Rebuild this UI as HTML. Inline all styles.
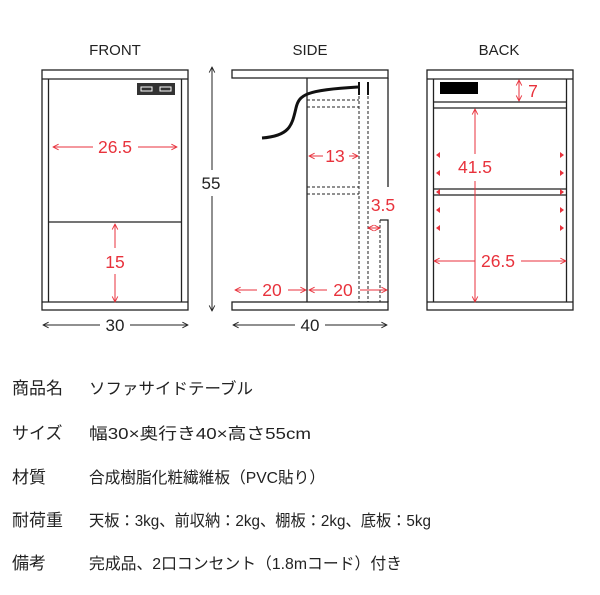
<!DOCTYPE html>
<html><head><meta charset="utf-8"><style>
body{margin:0;background:#fff;}
svg text{font-family:"Liberation Sans","Noto Sans CJK JP",sans-serif;}
</style></head><body>
<svg width="600" height="590" viewBox="0 0 600 590" xmlns="http://www.w3.org/2000/svg">
<defs>
<marker id="ar" viewBox="0 0 10 10" refX="9" refY="5" markerWidth="7" markerHeight="7" orient="auto-start-reverse"><path d="M1,1 L9,5 L1,9" fill="none" stroke="#e8323c" stroke-width="1.3"/></marker>
<marker id="ab" viewBox="0 0 10 10" refX="9" refY="5" markerWidth="7" markerHeight="7" orient="auto-start-reverse"><path d="M1,1 L9,5 L1,9" fill="none" stroke="#222" stroke-width="1.3"/></marker>
</defs>
<g font-size="15" fill="#222" text-anchor="middle">
<text x="115" y="55">FRONT</text><text x="310" y="55">SIDE</text><text x="499" y="55">BACK</text>
</g>
<g fill="none" stroke="#222" stroke-width="1.3">
<rect x="42" y="70" width="146" height="240"/>
<line x1="42" y1="79" x2="188" y2="79"/><line x1="42" y1="302" x2="188" y2="302"/>
<line x1="48.5" y1="79" x2="48.5" y2="302"/><line x1="181.5" y1="79" x2="181.5" y2="302"/>
<line x1="48.5" y1="222" x2="181.5" y2="222"/>
<rect x="232" y="70" width="156" height="8"/>
<rect x="232" y="302" width="156" height="8"/>
<line x1="307" y1="78" x2="307" y2="302"/>
<polyline points="388,78 388,187"/>
<polyline points="380,220 388,220 388,302"/>
<rect x="427" y="70" width="146" height="240"/>
<line x1="427" y1="79" x2="573" y2="79"/><line x1="427" y1="302" x2="573" y2="302"/>
<line x1="433.5" y1="79" x2="433.5" y2="302"/><line x1="566.5" y1="79" x2="566.5" y2="302"/>
<line x1="433.5" y1="102" x2="566.5" y2="102"/><line x1="433.5" y1="108" x2="566.5" y2="108"/>
<line x1="433.5" y1="189" x2="566.5" y2="189"/><line x1="433.5" y1="195" x2="566.5" y2="195"/>
</g>
<g fill="none" stroke="#222" stroke-width="1" stroke-dasharray="3,2">
<line x1="359" y1="86" x2="359" y2="302"/><line x1="368" y1="86" x2="368" y2="302"/>
<line x1="380" y1="220" x2="380" y2="302"/>
<line x1="307" y1="100" x2="359" y2="100"/><line x1="307" y1="107" x2="359" y2="107"/>
<line x1="307" y1="187" x2="359" y2="187"/><line x1="307" y1="194" x2="359" y2="194"/>
</g>
<path d="M262,138 C290,136 292,125 296,108 C299,95 305,90 358,87" fill="none" stroke="#111" stroke-width="3"/>
<line x1="359" y1="82" x2="359" y2="95" stroke="#111" stroke-width="2"/>
<line x1="368" y1="82" x2="368" y2="95" stroke="#111" stroke-width="2"/>
<rect x="137" y="83" width="38" height="12" fill="#333"/>
<rect x="141" y="87" width="11" height="4" fill="none" stroke="#fff" stroke-width="1"/>
<rect x="160" y="87" width="11" height="4" fill="none" stroke="#fff" stroke-width="1"/>
<rect x="440" y="82" width="38" height="12" fill="#000"/>
<g stroke="#222" stroke-width="1" fill="none">
<line x1="212" y1="67" x2="212" y2="170" marker-start="url(#ab)"/>
<line x1="212" y1="196" x2="212" y2="311" marker-end="url(#ab)"/>
<line x1="43" y1="325" x2="100" y2="325" marker-start="url(#ab)"/>
<line x1="130" y1="325" x2="188" y2="325" marker-end="url(#ab)"/>
<line x1="233" y1="325" x2="295" y2="325" marker-start="url(#ab)"/>
<line x1="325" y1="325" x2="387" y2="325" marker-end="url(#ab)"/>
</g>
<g font-size="17" fill="#222" text-anchor="middle">
<text x="211" y="189">55</text><text x="115" y="331">30</text><text x="310" y="331">40</text>
</g>
<g stroke="#e8323c" stroke-width="1" fill="none">
<line x1="53" y1="147" x2="93" y2="147" marker-start="url(#ar)"/>
<line x1="138" y1="147" x2="177" y2="147" marker-end="url(#ar)"/>
<line x1="115" y1="224" x2="115" y2="248" marker-start="url(#ar)"/>
<line x1="115" y1="274" x2="115" y2="302" marker-end="url(#ar)"/>
<line x1="309" y1="156" x2="323" y2="156" marker-start="url(#ar)"/>
<line x1="349" y1="156" x2="358" y2="156" marker-end="url(#ar)"/>
<line x1="368" y1="228" x2="380" y2="228" marker-start="url(#ar)" marker-end="url(#ar)"/>
<line x1="235" y1="290" x2="257" y2="290" marker-start="url(#ar)"/>
<line x1="288" y1="290" x2="306" y2="290" marker-end="url(#ar)"/>
<line x1="309" y1="290" x2="327" y2="290" marker-start="url(#ar)"/>
<line x1="360" y1="290" x2="387" y2="290" marker-end="url(#ar)"/>
<line x1="519" y1="80" x2="519" y2="101" marker-start="url(#ar)" marker-end="url(#ar)"/>
<line x1="475" y1="109" x2="475" y2="154" marker-start="url(#ar)"/>
<line x1="475" y1="181" x2="475" y2="302" marker-end="url(#ar)"/>
<line x1="434" y1="261" x2="475" y2="261" marker-start="url(#ar)"/>
<line x1="521" y1="261" x2="566" y2="261" marker-end="url(#ar)"/>
</g>
<g fill="#e8323c">
<path d="M436,155 l4,-3 v6z M436,173 l4,-3 v6z M436,192 l4,-3 v6z M436,210 l4,-3 v6z M436,228 l4,-3 v6z"/>
<path d="M564,155 l-4,-3 v6z M564,173 l-4,-3 v6z M564,192 l-4,-3 v6z M564,210 l-4,-3 v6z M564,228 l-4,-3 v6z"/>
</g>
<g font-size="17.5" fill="#e8323c" text-anchor="middle">
<text x="115" y="153">26.5</text><text x="115" y="268">15</text>
<text x="335" y="162">13</text><text x="383" y="211">3.5</text>
<text x="272" y="296">20</text><text x="343" y="296">20</text>
<text x="533" y="97">7</text><text x="475" y="173">41.5</text><text x="498" y="267">26.5</text>
</g>
<g font-size="17" fill="#222">
<text x="12" y="394">商品名</text><text x="89" y="394" font-size="16" textLength="164" lengthAdjust="spacingAndGlyphs">ソファサイドテーブル</text>
<text x="12" y="439">サイズ</text><text x="89" y="439" font-size="16" textLength="222" lengthAdjust="spacingAndGlyphs">幅30×奥行き40×高さ55cm</text>
<text x="12" y="483">材質</text><text x="89" y="483" font-size="16" textLength="236" lengthAdjust="spacingAndGlyphs">合成樹脂化粧繊維板（PVC貼り）</text>
<text x="12" y="526">耐荷重</text><text x="89" y="526" font-size="16" textLength="342" lengthAdjust="spacingAndGlyphs">天板：3kg、前収納：2kg、棚板：2kg、底板：5kg</text>
<text x="12" y="569">備考</text><text x="89" y="569" font-size="16" textLength="313" lengthAdjust="spacingAndGlyphs">完成品、2口コンセント（1.8mコード）付き</text>
</g>
</svg>
</body></html>
